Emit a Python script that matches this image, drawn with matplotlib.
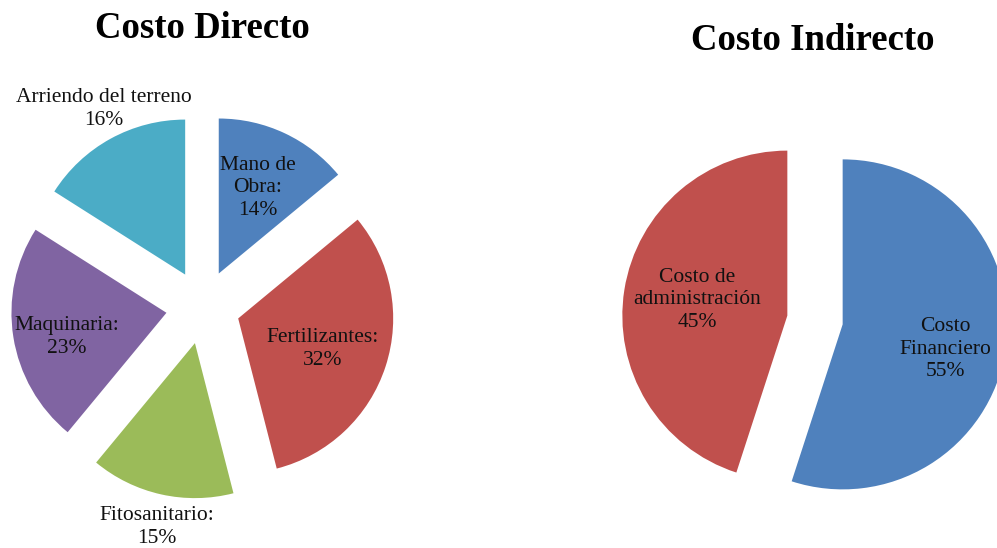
import matplotlib
matplotlib.use("Agg")
import matplotlib.pyplot as plt

plt.rcParams['font.family'] = ['Liberation Serif', 'DejaVu Serif']

# Costo Directo
directo_labels = ['Mano de\nObra:', 'Fertilizantes:', 'Fitosanitario:', 'Maquinaria:', 'Arriendo del terreno']
directo_values = [14, 32, 15, 23, 16]
directo_colors = ['#4F81BD', '#C0504D', '#9BBB59', '#8064A2', '#4BACC6']

# Costo Indirecto
indirecto_labels = ['Costo\nFinanciero', 'Costo de\nadministración']
indirecto_values = [55, 45]
indirecto_colors = ['#4F81BD', '#C0504D']

W, H = 997, 548
fig = plt.figure(figsize=(W / 100, H / 100), dpi=100)
ax = fig.add_axes([0, 0, 1, 1])

# left pie (pixel coords, y up); explode is in data units here
ax.pie(directo_values, colors=directo_colors, startangle=90, counterclock=False,
       center=(203, H - 307), radius=155, explode=[37] * len(directo_values),
       wedgeprops=dict(linewidth=0))
# right pie
ax.pie(indirecto_values, colors=indirecto_colors, startangle=90, counterclock=False,
       center=(815, H - 320), radius=165, explode=[28] * len(indirecto_values),
       wedgeprops=dict(linewidth=0))
ax.set_xlim(0, W)
ax.set_ylim(0, H)
ax.set_aspect('equal')
ax.axis('off')

# label positions (image pixels)
directo_pos = [(258, 188), (323, 349), (157, 527), (67, 337), (104, 109)]
indirecto_pos = [(945, 349), (697, 300)]

for lab, val, (x, y) in zip(directo_labels, directo_values, directo_pos):
    ax.text(x, H - y, f'{lab}\n{val}%', ha='center', va='center', fontsize=15.5,
            linespacing=1.24, color='#111111')
for lab, val, (x, y) in zip(indirecto_labels, indirecto_values, indirecto_pos):
    ax.text(x, H - y, f'{lab}\n{val}%', ha='center', va='center', fontsize=15.5,
            linespacing=1.24, color='#111111')

ax.text(202, H - 28, 'Costo Directo', ha='center', va='center', fontsize=26.5, fontweight='bold')
ax.text(813, H - 41, 'Costo Indirecto', ha='center', va='center', fontsize=26.5, fontweight='bold')

fig.savefig('out.png', dpi=100)
